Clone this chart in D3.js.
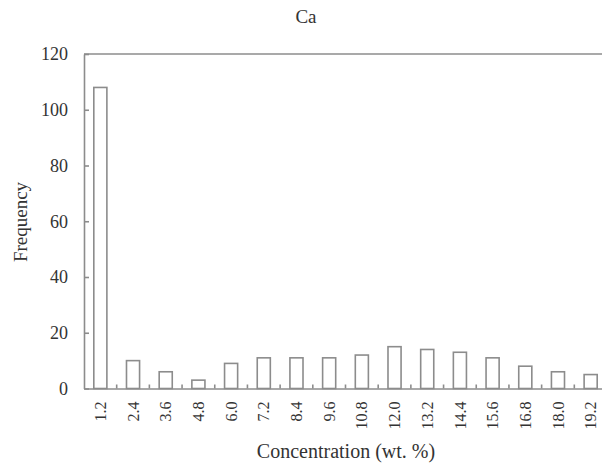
<!DOCTYPE html>
<html>
<head>
<meta charset="utf-8">
<script src="https://cdn.jsdelivr.net/npm/d3@7"></script>
<style>
  body { margin: 0; background: #fff; }
  text { font-family: "Liberation Serif", "Times New Roman", serif; fill: #333; }
</style>
</head>
<body>
<script>
// Histogram of Ca concentration
var categories = ["1.2", "2.4", "3.6", "4.8", "6.0", "7.2", "8.4", "9.6",
                  "10.8", "12.0", "13.2", "14.4", "15.6", "16.8", "18.0", "19.2"];
var frequency = [108, 10, 6, 3, 9, 11, 11, 11, 12, 15, 14, 13, 11, 8, 6, 5];
var yTicks = [0, 20, 40, 60, 80, 100, 120];

var width = 602, height = 465;
var margins = {top: 54, left: 84, bottom: 388.5, right: 607};
var lineColor = "#8c8c8c";

var svg = d3.select("body")
.append("svg")
.attr("width", width)
.attr("height", height);

// scales
var x_Scale = d3.scaleBand()
.domain(categories)
.range([margins.left, margins.right])
.paddingInner(0.6)
.paddingOuter(0.3);

var y_Scale = d3.scaleLinear()
.domain([0, 120])
.range([margins.bottom, margins.top]);

// title
svg.append("text")
.attr("x", 306)
.attr("y", 23)
.attr("text-anchor", "middle")
.style("font-size", "19px")
.text("Ca");

// top frame line
svg.append("line")
.attr("x1", margins.left)
.attr("x2", margins.right)
.attr("y1", y_Scale(120))
.attr("y2", y_Scale(120))
.attr("stroke", lineColor)
.attr("stroke-width", 1.6);

// bars
svg.selectAll(".bar")
.data(frequency)
.enter()
.append("rect")
.attr("class", "bar")
.attr("x", function(d, i) {return x_Scale(categories[i]);})
.attr("width", x_Scale.bandwidth())
.attr("y", function(d) {return y_Scale(d);})
.attr("height", function(d) {return y_Scale(0) - y_Scale(d);})
.attr("fill", "#fff")
.attr("stroke", lineColor)
.attr("stroke-width", 1.6);

// y axis, ticks pointing inward
var y_Axis = svg.append("g")
.attr("transform", `translate(${margins.left}, 0)`)
.call(d3.axisLeft(y_Scale).tickValues(yTicks).tickSize(-5).tickSizeOuter(0).tickPadding(16));
y_Axis.selectAll("path, line").attr("stroke", lineColor).attr("stroke-width", 1.6);
y_Axis.selectAll("text").style("font-size", "18px").style("font-family", "Liberation Serif").attr("fill", "#333");

// x axis, category ticks between bars pointing inward
var x_Axis = svg.append("g")
.attr("transform", `translate(0, ${margins.bottom})`)
.call(d3.axisBottom(x_Scale).tickSize(0).tickSizeOuter(0).tickPadding(0));
x_Axis.select(".domain").attr("stroke", lineColor).attr("stroke-width", 1.6);
x_Axis.selectAll("text")
.attr("transform", "rotate(-90)")
.attr("text-anchor", "end")
.attr("x", -13)
.attr("y", 0)
.attr("dy", "0.35em")
.style("font-size", "16px")
.style("font-family", "Liberation Serif")
.attr("fill", "#333");

x_Axis.selectAll(".sep")
.data(categories.slice(1))
.enter()
.append("line")
.attr("class", "sep")
.attr("x1", function(d) {return x_Scale(d) - x_Scale.paddingOuter() * x_Scale.step();})
.attr("x2", function(d) {return x_Scale(d) - x_Scale.paddingOuter() * x_Scale.step();})
.attr("y1", 0)
.attr("y2", -4)
.attr("stroke", lineColor)
.attr("stroke-width", 1.6);

// axis titles
svg.append("text")
.attr("x", 346)
.attr("y", 458)
.attr("text-anchor", "middle")
.style("font-size", "20px")
.text("Concentration (wt. %)");

svg.append("text")
.attr("transform", "rotate(-90)")
.attr("x", -222)
.attr("y", 27)
.attr("text-anchor", "middle")
.style("font-size", "19px")
.text("Frequency");
</script>
</body>
</html>
